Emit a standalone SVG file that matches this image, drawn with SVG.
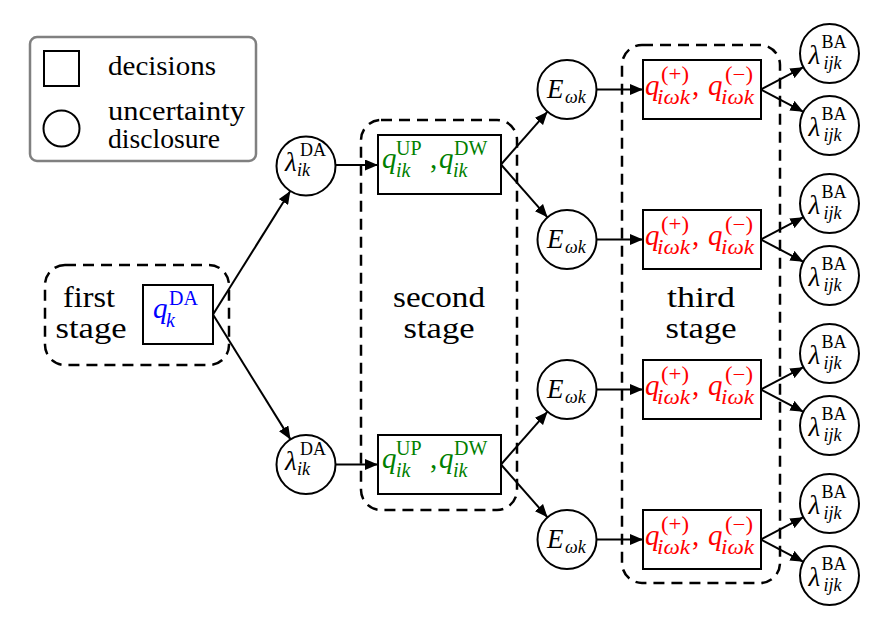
<svg xmlns="http://www.w3.org/2000/svg" width="891" height="630" viewBox="0 0 891 630" font-family="Liberation Serif, serif">
<defs>
<marker id="ah" viewBox="0 0 13 11" refX="13" refY="5.5" markerWidth="13" markerHeight="11" markerUnits="userSpaceOnUse" orient="auto"><path d="M0,0 L13,5.5 L0,11 z" fill="#000"/></marker>
</defs>
<style>
text{font-family:'Liberation Serif','Times New Roman',serif;fill:#000}
.it{font-style:italic}
.node{fill:#fff;stroke:#000;stroke-width:2}
.stage{fill:none;stroke:#000;stroke-width:2.5;stroke-dasharray:11 7}
.conn path{fill:none;stroke:#000;stroke-width:2;marker-end:url(#ah)}
.lbl{font-size:29px;text-anchor:middle}
.leg{font-size:27px}
.m{font-size:29px}
.s{font-size:20px}
.cm{font-size:27px}
.cs{font-size:18px}
.blue{fill:#0000ff}
.green{fill:#008000}
.red{fill:#ff0000}
</style>
<rect width="891" height="630" fill="#fff"/>

<g id="legend">
<rect x="30" y="37" width="226" height="124" rx="7" fill="#fff" stroke="#808080" stroke-width="2.5"/>
<rect x="44" y="51" width="35" height="35" fill="none" stroke="#000" stroke-width="2"/>
<circle cx="61.5" cy="128.5" r="18" fill="none" stroke="#000" stroke-width="2"/>
<text class="leg" x="108" y="75" textLength="108" lengthAdjust="spacingAndGlyphs">decisions</text>
<text class="leg" x="108" y="120" textLength="137" lengthAdjust="spacingAndGlyphs">uncertainty</text>
<text class="leg" x="108" y="148" textLength="112" lengthAdjust="spacingAndGlyphs">disclosure</text>
</g>

<g id="stages">
<rect class="stage" x="45" y="265" width="184" height="100" rx="20"/>
<rect class="stage" x="361" y="120" width="156" height="390" rx="20"/>
<rect class="stage" x="622" y="45" width="158" height="538" rx="20"/>
<text class="lbl" x="89" y="307" textLength="52" lengthAdjust="spacingAndGlyphs">first</text>
<text class="lbl" x="91" y="338" textLength="71" lengthAdjust="spacingAndGlyphs">stage</text>
<text class="lbl" x="439" y="307" textLength="92" lengthAdjust="spacingAndGlyphs">second</text>
<text class="lbl" x="439" y="338" textLength="71" lengthAdjust="spacingAndGlyphs">stage</text>
<text class="lbl" x="701" y="307" textLength="68" lengthAdjust="spacingAndGlyphs">third</text>
<text class="lbl" x="701" y="338" textLength="71" lengthAdjust="spacingAndGlyphs">stage</text>
</g>

<g class="conn" id="connectors">
<path d="M213,314.5 L290.3,191"/>
<path d="M213,314.5 L290.5,439.4"/>
<path d="M335.5,165 L378,165"/>
<path d="M335.5,464.5 L378,464.5"/>
<path d="M501,164.5 L547.5,111.7"/>
<path d="M501,164.5 L547.5,217.3"/>
<path d="M501,464.5 L547.5,411.7"/>
<path d="M501,464.5 L547.5,517.3"/>
<path d="M596.5,89.5 L643,89.5"/>
<path d="M596.5,239.5 L643,239.5"/>
<path d="M596.5,389.5 L643,389.5"/>
<path d="M596.5,539.5 L643,539.5"/>
<path d="M761,89.5 L803.4,67.2"/>
<path d="M761,89.5 L803.4,111.8"/>
<path d="M761,239.5 L803.4,217.2"/>
<path d="M761,239.5 L803.4,261.8"/>
<path d="M761,389.5 L803.4,367.2"/>
<path d="M761,389.5 L803.4,411.8"/>
<path d="M761,539.5 L803.4,517.2"/>
<path d="M761,539.5 L803.4,561.8"/>
</g>

<g id="qDA">
<rect class="node" x="143" y="285" width="70" height="59"/>
<text class="m it blue" x="153" y="318">q</text>
<text class="s blue" x="169" y="305">DA</text>
<text class="s it blue" x="166" y="327">k</text>
</g>

<g id="lamDA1" transform="translate(306,166)">
<circle class="node" r="29.5"/>
<text class="cm it" x="-21" y="5">λ</text>
<text class="cs" x="-6" y="-10">DA</text>
<text class="cs it" x="-9" y="10">ik</text>
</g>
<g id="lamDA2" transform="translate(306,464.5)">
<circle class="node" r="29.5"/>
<text class="cm it" x="-21" y="5">λ</text>
<text class="cs" x="-6" y="-10">DA</text>
<text class="cs it" x="-9" y="10">ik</text>
</g>

<g id="qUD1" transform="translate(378,135)">
<rect class="node" width="123" height="59"/>
<text class="m it green" x="4" y="33">q</text>
<text class="s green" x="18" y="20">UP</text>
<text class="s it green" x="18" y="42">ik</text>
<text class="m green" x="52" y="33">,</text>
<text class="m it green" x="61" y="33">q</text>
<text class="s green" x="76" y="20">DW</text>
<text class="s it green" x="75" y="42">ik</text>
</g>
<g id="qUD2" transform="translate(378,435)">
<rect class="node" width="123" height="59"/>
<text class="m it green" x="4" y="33">q</text>
<text class="s green" x="18" y="20">UP</text>
<text class="s it green" x="18" y="42">ik</text>
<text class="m green" x="52" y="33">,</text>
<text class="m it green" x="61" y="33">q</text>
<text class="s green" x="76" y="20">DW</text>
<text class="s it green" x="75" y="42">ik</text>
</g>

<g id="E1" transform="translate(567,89.5)">
<circle class="node" r="29.5"/>
<text class="cm it" x="-20" y="8">E</text>
<text class="cs it" x="-2" y="13">ωk</text>
</g>
<g id="E2" transform="translate(567,239.5)">
<circle class="node" r="29.5"/>
<text class="cm it" x="-20" y="8">E</text>
<text class="cs it" x="-2" y="13">ωk</text>
</g>
<g id="E3" transform="translate(567,389.5)">
<circle class="node" r="29.5"/>
<text class="cm it" x="-20" y="8">E</text>
<text class="cs it" x="-2" y="13">ωk</text>
</g>
<g id="E4" transform="translate(567,539.5)">
<circle class="node" r="29.5"/>
<text class="cm it" x="-20" y="8">E</text>
<text class="cs it" x="-2" y="13">ωk</text>
</g>

<g id="qPM1" transform="translate(643,60)">
<rect class="node" width="118" height="59"/>
<text class="m it red" x="2" y="34.5">q</text>
<text class="s red" x="18" y="21" textLength="28" lengthAdjust="spacingAndGlyphs">(+)</text>
<text class="s it red" x="14" y="43.5" textLength="33" lengthAdjust="spacingAndGlyphs">iωk</text>
<text class="m red" x="49" y="34.5">,</text>
<text class="m it red" x="65" y="34.5">q</text>
<text class="s red" x="82" y="21" textLength="28" lengthAdjust="spacingAndGlyphs">(−)</text>
<text class="s it red" x="78" y="43.5" textLength="33" lengthAdjust="spacingAndGlyphs">iωk</text>
</g>
<g id="qPM2" transform="translate(643,210)">
<rect class="node" width="118" height="59"/>
<text class="m it red" x="2" y="34.5">q</text>
<text class="s red" x="18" y="21" textLength="28" lengthAdjust="spacingAndGlyphs">(+)</text>
<text class="s it red" x="14" y="43.5" textLength="33" lengthAdjust="spacingAndGlyphs">iωk</text>
<text class="m red" x="49" y="34.5">,</text>
<text class="m it red" x="65" y="34.5">q</text>
<text class="s red" x="82" y="21" textLength="28" lengthAdjust="spacingAndGlyphs">(−)</text>
<text class="s it red" x="78" y="43.5" textLength="33" lengthAdjust="spacingAndGlyphs">iωk</text>
</g>
<g id="qPM3" transform="translate(643,360)">
<rect class="node" width="118" height="59"/>
<text class="m it red" x="2" y="34.5">q</text>
<text class="s red" x="18" y="21" textLength="28" lengthAdjust="spacingAndGlyphs">(+)</text>
<text class="s it red" x="14" y="43.5" textLength="33" lengthAdjust="spacingAndGlyphs">iωk</text>
<text class="m red" x="49" y="34.5">,</text>
<text class="m it red" x="65" y="34.5">q</text>
<text class="s red" x="82" y="21" textLength="28" lengthAdjust="spacingAndGlyphs">(−)</text>
<text class="s it red" x="78" y="43.5" textLength="33" lengthAdjust="spacingAndGlyphs">iωk</text>
</g>
<g id="qPM4" transform="translate(643,510)">
<rect class="node" width="118" height="59"/>
<text class="m it red" x="2" y="34.5">q</text>
<text class="s red" x="18" y="21" textLength="28" lengthAdjust="spacingAndGlyphs">(+)</text>
<text class="s it red" x="14" y="43.5" textLength="33" lengthAdjust="spacingAndGlyphs">iωk</text>
<text class="m red" x="49" y="34.5">,</text>
<text class="m it red" x="65" y="34.5">q</text>
<text class="s red" x="82" y="21" textLength="28" lengthAdjust="spacingAndGlyphs">(−)</text>
<text class="s it red" x="78" y="43.5" textLength="33" lengthAdjust="spacingAndGlyphs">iωk</text>
</g>

<g id="lamBA1" transform="translate(829.5,53.5)"><circle class="node" r="29.5"/><text class="cm it" x="-21" y="10">λ</text><text class="cs" x="-8" y="-6">BA</text><text class="cs it" x="-6" y="15">ijk</text></g>
<g id="lamBA2" transform="translate(829.5,125.5)"><circle class="node" r="29.5"/><text class="cm it" x="-21" y="10">λ</text><text class="cs" x="-8" y="-6">BA</text><text class="cs it" x="-6" y="15">ijk</text></g>
<g id="lamBA3" transform="translate(829.5,203.5)"><circle class="node" r="29.5"/><text class="cm it" x="-21" y="10">λ</text><text class="cs" x="-8" y="-6">BA</text><text class="cs it" x="-6" y="15">ijk</text></g>
<g id="lamBA4" transform="translate(829.5,275.5)"><circle class="node" r="29.5"/><text class="cm it" x="-21" y="10">λ</text><text class="cs" x="-8" y="-6">BA</text><text class="cs it" x="-6" y="15">ijk</text></g>
<g id="lamBA5" transform="translate(829.5,353.5)"><circle class="node" r="29.5"/><text class="cm it" x="-21" y="10">λ</text><text class="cs" x="-8" y="-6">BA</text><text class="cs it" x="-6" y="15">ijk</text></g>
<g id="lamBA6" transform="translate(829.5,425.5)"><circle class="node" r="29.5"/><text class="cm it" x="-21" y="10">λ</text><text class="cs" x="-8" y="-6">BA</text><text class="cs it" x="-6" y="15">ijk</text></g>
<g id="lamBA7" transform="translate(829.5,503.5)"><circle class="node" r="29.5"/><text class="cm it" x="-21" y="10">λ</text><text class="cs" x="-8" y="-6">BA</text><text class="cs it" x="-6" y="15">ijk</text></g>
<g id="lamBA8" transform="translate(829.5,575.5)"><circle class="node" r="29.5"/><text class="cm it" x="-21" y="10">λ</text><text class="cs" x="-8" y="-6">BA</text><text class="cs it" x="-6" y="15">ijk</text></g>
</svg>
